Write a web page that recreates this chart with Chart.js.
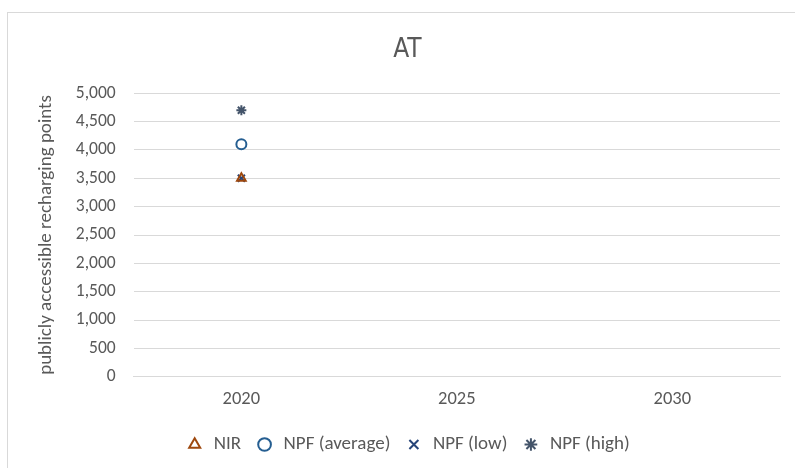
<!DOCTYPE html>
<html><head><meta charset="utf-8">
<script src="https://cdn.jsdelivr.net/npm/chart.js@4"></script>
<style>
html,body{margin:0;padding:0;background:#fff;}
#wrap{position:absolute;left:7px;top:12px;width:800px;height:470px;border:1px solid #d9d9d9;box-sizing:border-box;}
#c{position:absolute;left:0;top:0;}
</style></head><body>
<div id="wrap"></div>
<canvas id="c" width="795" height="468"></canvas>
<script>
const categories = ['2020','2025','2030'];
const nir = [3500, null, null];
const npfAverage = [4100, null, null];
const npfLow = [3500, null, null];
const npfHigh = [4700, null, null];
const seriesNames = ['NIR','NPF (average)','NPF (low)','NPF (high)'];

const font = "Carlito, Lato, 'Open Sans', sans-serif";
const ctx = document.getElementById('c');
new Chart(ctx, {
  type: 'line',
  data: {
    labels: categories,
    datasets: [
      {label: seriesNames[0], data: nir, showLine:false, pointStyle:'triangle', pointRadius:5, borderColor:'#9E480E', backgroundColor:'rgba(0,0,0,0)', borderWidth:2},
      {label: seriesNames[1], data: npfAverage, showLine:false, pointStyle:'circle', pointRadius:5, borderColor:'#255E91', backgroundColor:'rgba(0,0,0,0)', borderWidth:2},
      {label: seriesNames[2], data: npfLow, showLine:false, pointStyle:'crossRot', pointRadius:5, borderColor:'#264478', backgroundColor:'rgba(0,0,0,0)', borderWidth:2},
      {label: seriesNames[3], data: npfHigh, showLine:false, pointStyle:'star', pointRadius:5, borderColor:'#44546A', backgroundColor:'rgba(0,0,0,0)', borderWidth:2}
    ]
  },
  options: {
    responsive:false, animation:false,
    layout:{padding:{left:35, right:15, top:35, bottom:4}},
    plugins:{
      title:{display:true, text:'AT', color:'#595959', font:{family:"'Liberation Sans Narrow', 'DejaVu Sans Condensed', sans-serif", size:26, weight:'normal'}, padding:{top:0,bottom:27}},
      legend:{position:'bottom', labels:{usePointStyle:true, boxHeight:9, color:'#595959', font:{family:font, size:19}, padding:14}},
      tooltip:{enabled:false}
    },
    scales:{
      x:{offset:true, grid:{display:false, drawTicks:false}, border:{color:'#d9d9d9'}, ticks:{color:'#595959', font:{family:font, size:18.5}, padding:11}},
      y:{min:0, max:5000, ticks:{stepSize:500, color:'#595959', font:{family:font, size:17.5}, padding:18, callback:v=>v.toLocaleString('en-US')}, grid:{color:'#d9d9d9', drawTicks:false}, border:{display:false},
         title:{display:true, text:'publicly accessible recharging points', color:'#595959', font:{family:font, size:19}, padding:{top:0,bottom:0}}}
    }
  }
});
</script>
</body></html>
